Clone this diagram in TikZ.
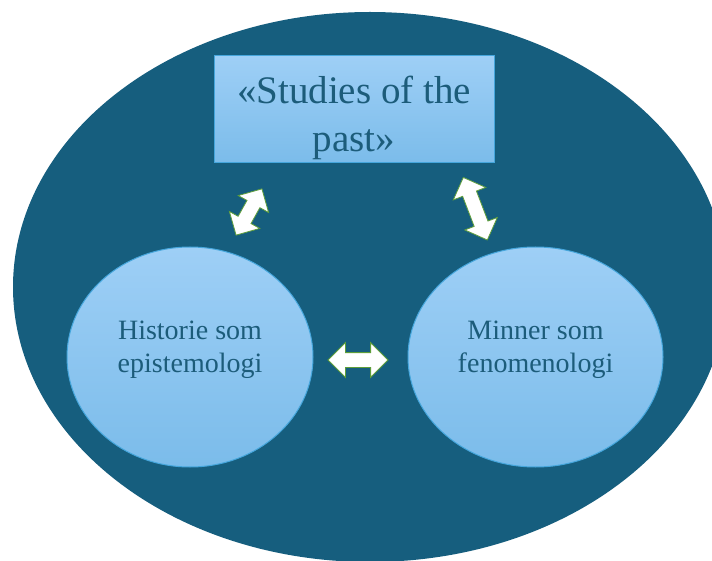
\documentclass[tikz,border=0pt]{standalone}
\usepackage{fontspec}
\setmainfont{Liberation Serif}
\usetikzlibrary{shapes.geometric,shapes.arrows}
\definecolor{bgblue}{HTML}{165E7E}
\definecolor{lightA}{HTML}{9ECFF6}
\definecolor{lightB}{HTML}{7BBCEA}
\definecolor{edgeblue}{HTML}{45A6DC}
\definecolor{txtblue}{HTML}{1C5C7A}
\definecolor{arrowgreen}{HTML}{5E9E3A}
\begin{document}
\begin{tikzpicture}[x=1pt,y=-1pt,
  lightshape/.style={draw=edgeblue, line width=1pt, top color=lightA, bottom color=lightB, inner sep=0pt},
  blockarrow/.style={double arrow, draw=arrowgreen, line width=0.8pt, fill=white,
    inner xsep=0pt, inner ysep=7pt, double arrow head extend=10pt, double arrow tip angle=90},
  boxtext/.style={text=txtblue, align=center, inner sep=0pt, font=\fontsize{39}{48}\selectfont},
  circtext/.style={text=txtblue, align=center, inner sep=0pt, font=\fontsize{28}{33}\selectfont}]
\useasboundingbox (0,0) rectangle (712,561);
\clip (0,0) rectangle (712,561);
% background ellipse
\fill[bgblue] (370,287) ellipse [x radius=357, y radius=275];
% shapes
\node[rectangle, lightshape, minimum width=280pt, minimum height=107pt] (box) at (354,109.5) {};
\node[ellipse, lightshape, minimum width=246pt, minimum height=220pt] (hist) at (190,357) {};
\node[ellipse, lightshape, minimum width=255pt, minimum height=220pt] (minn) at (535.5,357) {};
% texts
\node[boxtext] (boxlabel) at (354,118.3) {«Studies of the\\past»};
\node[circtext] (histlabel) at (190,350) {Historie som\\epistemologi};
\node[circtext] (minnlabel) at (535.5,350) {Minner som\\fenomenologi};
% block arrows
\node[blockarrow, minimum height=53pt, rotate=60.8] (arrowL) at (249,212) {};
\node[blockarrow, minimum height=67pt, rotate=111] (arrowR) at (475.3,208.7) {};
\node[blockarrow, minimum height=60pt] (arrowM) at (358,360) {};
\end{tikzpicture}
\end{document}
